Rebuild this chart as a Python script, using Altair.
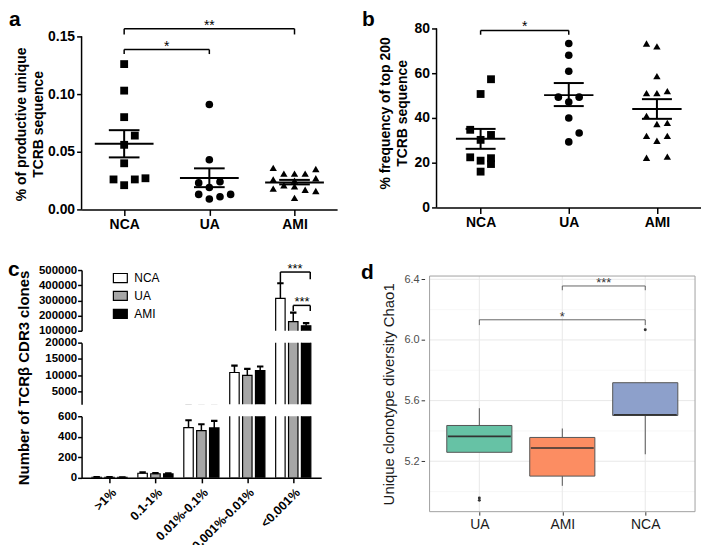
import json
import altair as alt
import pandas as pd

FONT = "Liberation Sans"

# ---------------- panel a : % of productive unique TCRB sequence ----------------
a_groups = ["NCA", "UA", "AMI"]
a_nca = [0.126, 0.103, 0.080, 0.064, 0.056, 0.040, 0.026, 0.021, 0.026, 0.027]
a_nca_slot = [0, 0, 0, 1, 0, 0, -1, 0, 1, 2]
a_ua = [0.091, 0.043, 0.023, 0.024, 0.019, 0.013, 0.009, 0.011, 0.013]
a_ua_slot = [0, 0, -1, 1, 0, -1, 0, 1, 2]
a_ami = [0.036, 0.035, 0.031, 0.031, 0.031, 0.027, 0.026, 0.025, 0.021, 0.020, 0.018, 0.017, 0.016, 0.010]
a_ami_slot = [-2, 2, -1, 0, 1, 2, -2, 0, -1, 0, -2, 1, 2, 0]
a_mean = [0.0569, 0.0273, 0.0233]
a_sem_lo = [0.0451, 0.0193, 0.0217]
a_sem_hi = [0.0687, 0.0356, 0.0256]
a_yticks = [0.0, 0.05, 0.10, 0.15]

# ---------------- panel b : % frequency of top 200 TCRB sequence ----------------
b_groups = ["NCA", "UA", "AMI"]
b_nca = [57.3, 50.7, 34.7, 32.4, 30.2, 22.4, 22.0, 20.9, 19.4, 16.0]
b_nca_slot = [1, 0, -1, 1, 0, -1, 1, 0, 1, 0]
b_ua = [73.3, 68.0, 60.9, 49.3, 49.3, 47.1, 40.0, 33.3, 29.3]
b_ua_slot = [0, 0, 0, -1, 1, 0, 0, 1, 0]
b_ami = [73.3, 72.0, 58.7, 51.1, 51.1, 52.0, 40.9, 37.3, 37.8, 32.0, 29.8, 32.0, 22.2, 22.7]
b_ami_slot = [-1, 0, 0, -1, 0, 1, -1, 0, 1, -1, 0, 1, -1, 1]
b_mean = [30.7, 50.2, 44.0]
b_sem_lo = [26.2, 45.3, 39.6]
b_sem_hi = [35.1, 55.6, 48.4]
b_yticks = [0, 20, 40, 60, 80]

# ---------------- panel c : Number of TCRbeta CDR3 clones ----------------
c_bins = [">1%", "0.1-1%", "0.01%-0.1%", "0.001%-0.01%", "<0.001%"]
c_series = ["NCA", "UA", "AMI"]
c_nca = [5, 45, 489, 10800, 313000]
c_nca_err = [2, 8, 72, 2100, 100000]
c_ua = [5, 40, 460, 9900, 160000]
c_ua_err = [2, 7, 62, 2000, 59000]
c_ami = [4, 38, 486, 11400, 132000]
c_ami_err = [2, 6, 68, 1250, 18000]
c_ticks_top = [100000, 200000, 300000, 400000, 500000]
c_ticks_mid = [5000, 10000, 15000, 20000]
c_ticks_bot = [0, 200, 400, 600]

# ---------------- panel d : Unique clonotype diversity Chao1 ----------------
d_groups = ["UA", "AMI", "NCA"]
d_q1 = [5.259, 5.102, 5.502]
d_median = [5.364, 5.287, 5.506]
d_q3 = [5.436, 5.357, 5.718]
d_whisk_lo = [5.259, 5.038, 5.246]
d_whisk_hi = [5.550, 5.416, 5.718]
d_out_group = ["UA", "UA", "NCA"]
d_out_value = [4.942, 4.957, 6.068]
d_major = [5.2, 5.6, 6.0, 6.4]
d_minor = [5.0, 5.4, 5.8, 6.2]


def label_expr(cats):
    return json.dumps(cats) + "[datum.value]"


def letter(t, dx, dy):
    return alt.Chart(pd.DataFrame({"t": [t]})).mark_text(
        font=FONT, fontSize=21, fontWeight="bold", align="left",
        baseline="alphabetic", color="black"
    ).encode(x=alt.value(dx), y=alt.value(dy), text="t:N")


def bracket_rows(x0, x1, y, leg0, leg1):
    return [
        {"x0": x0, "x1": x1, "y0": y, "y1": y},
        {"x0": x0, "x1": x0, "y0": leg0, "y1": y},
        {"x0": x1, "x1": x1, "y0": leg1, "y1": y},
    ]


def scatter_panel(groups, vals, slots, means, lo, hi, slot_w, mean_hw, sem_hw,
                  ydom, yticks, yfmt, axis_top, width, height, ytitle, tx, ty,
                  brackets, stars, let, let_dx, let_dy):
    rows = []
    for gi, (g, vv, ss) in enumerate(zip(groups, vals, slots)):
        for v, s in zip(vv, ss):
            rows.append({"group": g, "idx": gi, "value": v, "slot": s})
    pts = pd.DataFrame(rows)
    stats = pd.DataFrame({"group": groups, "idx": list(range(len(groups))),
                          "mean": means, "lo": lo, "hi": hi})
    xscale = alt.Scale(domain=[-0.5, len(groups) - 0.5], nice=False, zero=False)
    yscale = alt.Scale(domain=ydom, nice=False, zero=False)
    xaxis = alt.Axis(values=list(range(len(groups))), labelExpr=label_expr(groups), title=None,
                     grid=False, domainWidth=1.5, domainColor="black", tickSize=6, tickWidth=1.5,
                     tickColor="black", labelFont=FONT, labelFontSize=14, labelFontWeight="bold",
                     labelPadding=2, labelColor="black", labelOverlap=False, labelFlush=False)
    yaxis = alt.Axis(values=yticks, format=yfmt, title=ytitle, grid=False, domain=False,
                     tickSize=5, tickWidth=1.5, tickColor="black", labelFont=FONT,
                     labelFontSize=14, labelFontWeight="bold", labelPadding=2, labelColor="black",
                     titleFont=FONT, titleFontSize=14, titleFontWeight="bold", titleLineHeight=17,
                     titleX=tx, titleY=ty, titleAngle=270, titleAlign="center",
                     titleBaseline="bottom", titleColor="black", labelOverlap=False)

    def X(f):
        return alt.X(f, scale=xscale, axis=xaxis)

    def Y(f):
        return alt.Y(f, scale=yscale, axis=yaxis)

    points = alt.Chart(pts).transform_calculate(
        x=f"datum.idx + datum.slot * {slot_w}"
    ).mark_point(filled=True, opacity=1, color="black").encode(
        x=X("x:Q"), y=Y("value:Q"),
        shape=alt.Shape("group:N", scale=alt.Scale(domain=groups, range=["square", "circle", "triangle-up"]), legend=None),
        size=alt.Size("group:N", scale=alt.Scale(domain=groups, range=[62, 55, 70]), legend=None),
    )
    mean_rule = alt.Chart(stats).transform_calculate(
        x0=f"datum.idx - {mean_hw}", x1=f"datum.idx + {mean_hw}"
    ).mark_rule(color="black", strokeWidth=2).encode(x=X("x0:Q"), x2="x1:Q", y=Y("mean:Q"))
    cap_lo = alt.Chart(stats).transform_calculate(
        x0=f"datum.idx - {sem_hw}", x1=f"datum.idx + {sem_hw}"
    ).mark_rule(color="black", strokeWidth=2).encode(x=X("x0:Q"), x2="x1:Q", y=Y("lo:Q"))
    cap_hi = alt.Chart(stats).transform_calculate(
        x0=f"datum.idx - {sem_hw}", x1=f"datum.idx + {sem_hw}"
    ).mark_rule(color="black", strokeWidth=2).encode(x=X("x0:Q"), x2="x1:Q", y=Y("hi:Q"))
    sem_v = alt.Chart(stats).mark_rule(color="black", strokeWidth=2).encode(
        x=X("idx:Q"), y=Y("lo:Q"), y2="hi:Q")
    axis_line = alt.Chart(pd.DataFrame({"x": [-0.5], "y0": [ydom[0]], "y1": [axis_top]})).mark_rule(
        color="black", strokeWidth=1.5).encode(x=X("x:Q"), y=Y("y0:Q"), y2="y1:Q")
    br = alt.Chart(pd.DataFrame(brackets)).mark_rule(color="black", strokeWidth=1.5).encode(
        x=X("x0:Q"), x2="x1:Q", y=Y("y0:Q"), y2="y1:Q")
    st = alt.Chart(pd.DataFrame(stars)).mark_text(
        font=FONT, fontSize=14, color="black", baseline="alphabetic", align="center", dy=1
    ).encode(x=X("x:Q"), y=Y("y:Q"), text="t:N")
    return alt.layer(points, mean_rule, cap_lo, cap_hi, sem_v, axis_line, br, st,
                     letter(let, let_dx, let_dy)).properties(width=width, height=height)


panel_a = scatter_panel(
    a_groups, [a_nca, a_ua, a_ami], [a_nca_slot, a_ua_slot, a_ami_slot],
    a_mean, a_sem_lo, a_sem_hi, 0.125, 0.345, 0.18,
    [0, 0.1569], a_yticks, ".2f", 0.15, 257, 182,
    ["% of productive unique", "TCRB sequence"], -53, 96,
    bracket_rows(0, 2, 0.1567, 0.1517, 0.1517) + bracket_rows(0, 1, 0.1386, 0.1347, 0.1347),
    [{"x": 1.0, "y": 0.1567, "t": "**"}, {"x": 0.5, "y": 0.1386, "t": "*"}],
    "a", -73, -2)

panel_b = scatter_panel(
    b_groups, [b_nca, b_ua, b_ami], [b_nca_slot, b_ua_slot, b_ami_slot],
    b_mean, b_sem_lo, b_sem_hi, 0.118, 0.28, 0.17,
    [0, 80], b_yticks, "d", 80, 266, 180,
    ["% frequency of top 200", "TCRB sequence"], -44, 85,
    bracket_rows(0, 1, 79.1, 77.2, 77.2),
    [{"x": 0.5, "y": 79.1, "t": "*"}],
    "b", -75, -2)

# ---------------- panel c build ----------------
c_rows = []
for gi in range(len(c_bins)):
    for si, (name, vals, errs) in enumerate(zip(c_series, [c_nca, c_ua, c_ami], [c_nca_err, c_ua_err, c_ami_err])):
        c_rows.append({"bin": c_bins[gi], "g": gi, "series": name, "s": si,
                       "value": vals[gi], "err": errs[gi]})
c_df = pd.DataFrame(c_rows)
C_SUB = 0.28
C_CAP = 0.07
C_W = 241
c_xscale = alt.Scale(domain=[-0.5, len(c_bins) - 0.5], nice=False, zero=False)


def c_segment(ydom, yticks, height, show_x=False, title=None, tx=-50, ty=0, legend=None, extra=()):
    if show_x:
        xaxis = alt.Axis(values=list(range(len(c_bins))), labelExpr=label_expr(c_bins), title=None,
                         grid=False, domainWidth=1.5, domainColor="black", tickSize=5, tickWidth=1.5,
                         tickColor="black", labelFont=FONT, labelFontSize=12.5, labelFontWeight="bold",
                         labelAngle=315, labelAlign="right", labelBaseline="top", labelPadding=3,
                         labelOverlap=False, labelFlush=False, labelColor="black", labelLimit=300)
    else:
        xaxis = None
    ykw = dict(values=yticks, format="d", grid=False, domainWidth=1.5, domainColor="black",
               tickSize=4, tickWidth=1.5, tickColor="black", labelFont=FONT, labelFontSize=11.5,
               labelFontWeight="bold", labelPadding=1, labelColor="black", labelOverlap=False)
    if title:
        ykw.update(title=title, titleFont=FONT, titleFontSize=15, titleFontWeight="bold",
                   titleX=tx, titleY=ty, titleAngle=270, titleAlign="center",
                   titleBaseline="bottom", titleColor="black")
    else:
        ykw.update(title=None)
    yaxis = alt.Axis(**ykw)
    yscale = alt.Scale(domain=ydom, nice=False, zero=False)

    def X(f):
        return alt.X(f, scale=c_xscale, axis=xaxis)

    def Y(f):
        return alt.Y(f, scale=yscale, axis=yaxis)

    base = alt.Chart(c_df).transform_calculate(
        x=f"datum.g + (datum.s - 1) * {C_SUB}",
        top="datum.value + datum.err",
        xl=f"datum.g + (datum.s - 1) * {C_SUB} - {C_CAP}",
        xr=f"datum.g + (datum.s - 1) * {C_SUB} + {C_CAP}",
    )
    bars = base.mark_bar(width=9.5, stroke="black", strokeWidth=1.2, clip=True).encode(
        x=X("x:Q"), y=Y("value:Q"), y2=alt.datum(0),
        fill=alt.Fill("series:N", scale=alt.Scale(domain=c_series, range=["white", "#a6a6a6", "black"]),
                      legend=legend))
    err = base.mark_rule(color="black", strokeWidth=1.5, clip=True).encode(
        x=X("x:Q"), y=Y("value:Q"), y2="top:Q")
    cap = base.mark_rule(color="black", strokeWidth=2.2, clip=True).encode(
        x=X("xl:Q"), x2="xr:Q", y=Y("top:Q"))
    layers = [bars, err, cap]
    for kind, data in extra:
        if kind == "rule":
            layers.append(alt.Chart(pd.DataFrame(data)).mark_rule(color="black", strokeWidth=1.5).encode(
                x=X("x0:Q"), x2="x1:Q", y=Y("y0:Q"), y2="y1:Q"))
        elif kind == "text":
            layers.append(alt.Chart(pd.DataFrame(data)).mark_text(
                font=FONT, fontSize=13, color="black", baseline="alphabetic", align="center", dy=1
            ).encode(x=X("x:Q"), y=Y("y:Q"), text="t:N"))
        elif kind == "letter":
            layers.append(letter(*data))
    return alt.layer(*layers).properties(width=C_W, height=height)


c_legend = alt.Legend(orient="none", legendX=31, legendY=0, title=None,
                      symbolType="M-1,-0.65H1V0.65H-1Z", symbolSize=196,
                      symbolStrokeColor="black", symbolStrokeWidth=1.2,
                      labelFont=FONT, labelFontSize=12, labelColor="black",
                      labelOffset=6, rowPadding=3, padding=0)

c_top = c_segment(
    [100000, 500000], c_ticks_top, 61, legend=c_legend,
    extra=[
        ("rule", bracket_rows(3.72, 4.37, 487000, 415000, 440000) +
         bracket_rows(4.0, 4.37, 267000, 230000, 230000)),
        ("text", [{"x": 4.04, "y": 487000, "t": "***"}, {"x": 4.19, "y": 267000, "t": "***"}]),
        ("letter", ("c", -74, 6)),
    ])
c_mid = c_segment([1000, 20000], c_ticks_mid, 62, title="Number of TCRβ CDR3 clones", tx=-50, ty=35)
c_bot = c_segment([0, 600], c_ticks_bot, 62, show_x=True)

# ---------------- panel d build ----------------
D_LO, D_HI, D_FRAME_TOP = 4.8675, 6.461, 6.4216
d_xscale = alt.Scale(domain=[-0.6, 2.6], nice=False, zero=False)
d_yscale = alt.Scale(domain=[D_LO, D_HI], nice=False, zero=False)
d_xaxis = alt.Axis(values=[0, 1, 2], labelExpr=label_expr(d_groups), title=None, grid=False,
                   domain=False, tickSize=3.5, tickColor="#333333", tickWidth=1,
                   labelFont=FONT, labelFontSize=14, labelColor="#1a1a1a", labelPadding=2.5,
                   labelOverlap=False, labelFlush=False)
d_yaxis = alt.Axis(values=d_major, format=".1f", title="Unique clonotype diversity Chao1", grid=False,
                   domain=False, tickSize=3.5, tickColor="#333333", tickWidth=1,
                   labelFont=FONT, labelFontSize=11, labelColor="#4d4d4d", labelPadding=2,
                   titleFont=FONT, titleFontSize=15, titleFontWeight="normal", titleColor="#1a1a1a",
                   titleX=-28, titleY=124.5, titleAngle=270, titleAlign="center", titleBaseline="bottom",
                   labelOverlap=False)


def DX(f):
    return alt.X(f, scale=d_xscale, axis=d_xaxis)


def DY(f):
    return alt.Y(f, scale=d_yscale, axis=d_yaxis)


d_stats = pd.DataFrame({"group": d_groups, "idx": [0, 1, 2], "q1": d_q1, "med": d_median,
                        "q3": d_q3, "wlo": d_whisk_lo, "whi": d_whisk_hi})
d_out = pd.DataFrame({"group": d_out_group, "value": d_out_value})
d_out["idx"] = [d_groups.index(g) for g in d_out_group]

grid_minor = alt.Chart(pd.DataFrame({"y": d_minor})).transform_calculate(x0="-0.6", x1="2.6").mark_rule(
    color="#f2f2f2", strokeWidth=0.6).encode(x=DX("x0:Q"), x2="x1:Q", y=DY("y:Q"))
grid_major = alt.Chart(pd.DataFrame({"y": d_major})).transform_calculate(x0="-0.6", x1="2.6").mark_rule(
    color="#e8e8e8", strokeWidth=1).encode(x=DX("x0:Q"), x2="x1:Q", y=DY("y:Q"))
grid_v = alt.Chart(pd.DataFrame({"x": [0, 1, 2]})).transform_calculate(
    y0=str(D_LO), y1=str(D_FRAME_TOP)).mark_rule(color="#e8e8e8", strokeWidth=1).encode(
    x=DX("x:Q"), y=DY("y0:Q"), y2="y1:Q")
whisk_hi = alt.Chart(d_stats).mark_rule(color="#555555", strokeWidth=1).encode(
    x=DX("idx:Q"), y=DY("q3:Q"), y2="whi:Q")
whisk_lo = alt.Chart(d_stats).mark_rule(color="#555555", strokeWidth=1).encode(
    x=DX("idx:Q"), y=DY("wlo:Q"), y2="q1:Q")
boxes = alt.Chart(d_stats).mark_bar(width=65.5, stroke="#555555", strokeWidth=1).encode(
    x=DX("idx:Q"), y=DY("q1:Q"), y2="q3:Q",
    fill=alt.Fill("group:N", scale=alt.Scale(domain=d_groups, range=["#66c2a5", "#fc8d62", "#8da0cb"]),
                  legend=None))
medians = alt.Chart(d_stats).transform_calculate(
    x0="datum.idx - 0.379", x1="datum.idx + 0.379").mark_rule(color="#333333", strokeWidth=1.6).encode(
    x=DX("x0:Q"), x2="x1:Q", y=DY("med:Q"))
outliers = alt.Chart(d_out).mark_circle(size=9, color="#333333", opacity=1).encode(
    x=DX("idx:Q"), y=DY("value:Q"))
d_br = alt.Chart(pd.DataFrame(bracket_rows(1, 2, 6.356, 6.328, 6.328) +
                              bracket_rows(0, 2, 6.133, 6.098, 6.098))).mark_rule(
    color="#555555", strokeWidth=0.9).encode(x=DX("x0:Q"), x2="x1:Q", y=DY("y0:Q"), y2="y1:Q")
d_st = alt.Chart(pd.DataFrame([{"x": 1.5, "y": 6.356, "t": "***"}, {"x": 1.0, "y": 6.133, "t": "*"}])).mark_text(
    font=FONT, fontSize=13, color="#333333", baseline="alphabetic", align="center", dy=1).encode(
    x=DX("x:Q"), y=DY("y:Q"), text="t:N")
frame = alt.Chart(pd.DataFrame({"x0": [-0.6], "x1": [2.6], "y0": [D_LO], "y1": [D_FRAME_TOP]})).mark_rect(
    fill="transparent", stroke="#a0a0a0", strokeWidth=1).encode(
    x=DX("x0:Q"), x2="x1:Q", y=DY("y0:Q"), y2="y1:Q")
panel_d = alt.layer(grid_minor, grid_major, grid_v, whisk_hi, whisk_lo, boxes, medians, outliers,
                    d_br, d_st, frame, letter("d", -64, 9)).properties(width=277, height=243)

IND = dict(x="independent", y="independent", fill="independent", shape="independent", size="independent")

row1 = alt.hconcat(panel_a, panel_b, spacing=25).resolve_scale(**IND)
c_chart = alt.vconcat(c_top, c_mid, c_bot, spacing=12, bounds="flush").resolve_scale(**IND)
row2 = alt.hconcat(c_chart, panel_d, spacing=40).resolve_scale(**IND)

chart = alt.vconcat(row1, row2, spacing=28).resolve_scale(**IND).properties(
    padding=0, background="white"
).configure_view(stroke=None).configure_axis(labelFont=FONT, titleFont=FONT)

chart.save("out.html", embed_options={"renderer": "svg", "actions": False})
